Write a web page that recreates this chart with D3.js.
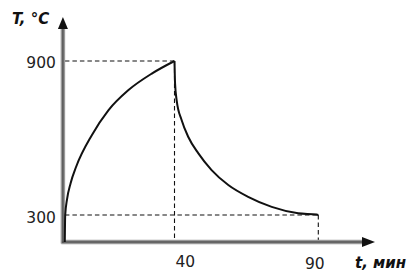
<!DOCTYPE html>
<html><head><meta charset="utf-8">
<script src="https://cdn.jsdelivr.net/npm/d3@7"></script>
<style>
html,body{margin:0;padding:0;background:#fff;}
svg{display:block;}
</style></head>
<body>
<script>
// Data
const heatTime = [1.85, 2.0, 2.6, 3.9, 5.8, 11.3, 17.0, 23.9, 32.1, 40];
const heatTemp = [195, 300, 359, 425, 488, 612, 708, 786, 851, 900];
const coolTime = [40, 40.2, 40.75, 42.5, 44.8, 48.3, 52.9, 58.7, 65.6, 73.8, 83.0, 89.4, 90];
const coolTemp = [900, 812, 747, 669, 604, 540, 475, 417, 371, 332, 307, 302, 300];
const xTicks = [40, 90];
const yTicks = [300, 900];
const xTickLabels = ["40", "90"];
const yTickLabels = ["300", "900"];
const origin = {t: 1.2, T: 195};
const xLabel = "t, мин";
const yLabel = "T, °C";

const W = 416, H = 275;
const svg = d3.select("body").append("svg").attr("width", W).attr("height", H);

const x = d3.scaleLinear().domain([40, 90]).range([174.5, 318.3]);
const y = d3.scaleLinear().domain([195, 900]).range([242, 61]);

const x0 = x(origin.t), y0 = y(origin.T);
const xEnd = 375, yEnd = 17;

// Dashed guides
const dash = svg.append("g").attr("stroke", "#111").attr("stroke-width", 1.1).attr("stroke-dasharray", "4.5,3").attr("fill", "none");
dash.append("line").attr("x1", x0 + 2).attr("x2", x(40)).attr("y1", y(900)).attr("y2", y(900));
dash.append("line").attr("x1", x(40)).attr("x2", x(40)).attr("y1", y(900)).attr("y2", y0);
dash.append("line").attr("x1", x0 + 2).attr("x2", x(90)).attr("y1", y(300)).attr("y2", y(300));
dash.append("line").attr("x1", x(90)).attr("x2", x(90)).attr("y1", y(300)).attr("y2", y0);

// Axes lines
const ax = svg.append("g");
ax.append("line").attr("x1", x0).attr("x2", x0).attr("y1", y0 + 1.5).attr("y2", yEnd + 9)
  .attr("stroke", "#9a9a9a").attr("stroke-width", 4.5);
ax.append("line").attr("x1", x0 - 1.5).attr("x2", xEnd - 11).attr("y1", y0).attr("y2", y0)
  .attr("stroke", "#9a9a9a").attr("stroke-width", 4.5);
ax.append("line").attr("x1", x0).attr("x2", x0).attr("y1", y0 + 1).attr("y2", yEnd + 9)
  .attr("stroke", "#555").attr("stroke-width", 1.5);
ax.append("line").attr("x1", x0 - 1).attr("x2", xEnd - 11).attr("y1", y0).attr("y2", y0)
  .attr("stroke", "#555").attr("stroke-width", 1.5);
// arrowheads
ax.append("path").attr("d", `M${x0},${yEnd} L${x0 - 5},${yEnd + 12} L${x0 + 5},${yEnd + 12} Z`).attr("fill", "#111");
ax.append("path").attr("d", `M${xEnd},${y0} L${xEnd - 13},${y0 - 5} L${xEnd - 13},${y0 + 5} Z`).attr("fill", "#111");

// Curves
const line = d3.line().x(d => x(d[0])).y(d => y(d[1])).curve(d3.curveMonotoneX);
const heat = heatTime.map((t, i) => [t, heatTemp[i]]);
const cool = coolTime.map((t, i) => [t, coolTemp[i]]);
svg.append("path").attr("d", line(heat)).attr("fill", "none").attr("stroke", "#111").attr("stroke-width", 2);
svg.append("path").attr("d", line(cool)).attr("fill", "none").attr("stroke", "#111").attr("stroke-width", 2);

// Tick labels via d3 axes
const fontFam = "'DejaVu Sans', sans-serif";
const gy = svg.append("g").attr("transform", `translate(${x0},0)`)
  .call(d3.axisLeft(y).tickValues(yTicks).tickSize(0).tickPadding(7)
    .tickFormat((d, i) => yTickLabels[i]));
gy.select(".domain").remove();
gy.selectAll("text").attr("font-family", fontFam).attr("font-size", 15.5).attr("fill", "#222").attr("dy", "0.45em");

const gx = svg.append("g").attr("transform", `translate(0,${y0})`)
  .call(d3.axisBottom(x).tickValues(xTicks).tickSize(0).tickPadding(14)
    .tickFormat((d, i) => xTickLabels[i]));
gx.select(".domain").remove();
gx.selectAll("text").attr("font-family", fontFam).attr("font-size", 15.5).attr("fill", "#222")
  .attr("text-anchor", (d, i) => i === 0 ? "start" : "middle")
  .attr("dx", (d, i) => i === 0 ? 0.5 : -4)
  .attr("dy", (d, i) => i === 0 ? "0.71em" : "0.84em");

// Axis titles
const titleFont = "'DejaVu Sans', sans-serif";
svg.append("text").attr("x", 12).attr("y", 23.5).text(yLabel)
  .attr("font-family", titleFont).attr("font-weight", "bold").attr("font-style", "italic")
  .attr("font-size", 15).attr("fill", "#111");
svg.append("text").attr("x", 355).attr("y", 268).text(xLabel)
  .attr("font-family", titleFont).attr("font-weight", "bold").attr("font-style", "italic")
  .attr("font-size", 15).attr("fill", "#111");
</script>
</body></html>
